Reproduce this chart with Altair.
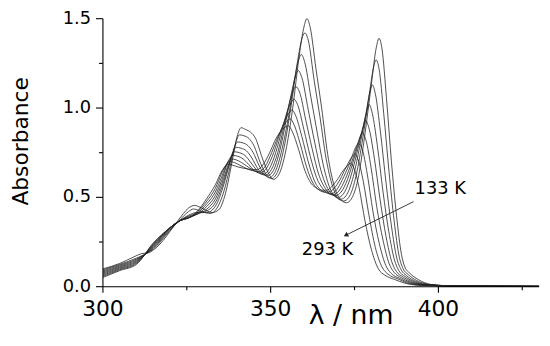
import altair as alt
import pandas as pd

temps = [133, 153, 173, 193, 213, 233, 253, 273, 293]

spec_133 = [(300,0.10),(305,0.13),(309,0.165),(311.5,0.185),(313.5,0.19),(316,0.22),(318,0.26),(320,0.31),(322,0.36),(324,0.41),(325.5,0.44),(327.3,0.455),(329.5,0.44),(332.5,0.415),(334.5,0.43),(336.5,0.52),(338.5,0.70),(340,0.84),(341.2,0.89),(342.5,0.88),(344,0.865),(345.5,0.83),(347.5,0.72),(349.5,0.63),(350.8,0.60),(352.5,0.63),(354.5,0.76),(356.5,0.99),(358.5,1.29),(360,1.46),(360.8,1.50),(361.8,1.45),(363.5,1.22),(365.2,1.00),(367,0.74),(369,0.56),(371,0.485),(372.6,0.47),(374,0.49),(376,0.60),(378,0.84),(380,1.13),(381.5,1.34),(382.3,1.39),(383.2,1.33),(384.5,1.06),(386,0.70),(387.5,0.40),(389,0.18),(390,0.11),(391.5,0.075),(394,0.04),(398,0.012),(405,0.004),(430,0.002)]
spec_153 = [(300,0.094),(305,0.125),(310,0.16),(315,0.21),(320,0.315),(323,0.375),(325.5,0.42),(327,0.435),(329.5,0.42),(332,0.41),(334,0.44),(336,0.53),(338,0.68),(339.5,0.80),(340.7,0.85),(342,0.845),(343.5,0.83),(345,0.79),(347,0.69),(349,0.62),(350.2,0.605),(352,0.64),(354,0.78),(356,1.00),(358,1.26),(359.5,1.40),(360.2,1.42),(361.2,1.38),(363,1.15),(364.7,0.95),(366.5,0.72),(368.5,0.56),(370.3,0.49),(371.8,0.48),(373.3,0.50),(375.2,0.60),(377.2,0.80),(379.2,1.05),(380.7,1.23),(381.4,1.27),(382.3,1.22),(383.7,0.97),(385.3,0.64),(386.8,0.37),(388.3,0.17),(389.5,0.10),(391,0.068),(393.5,0.035),(398,0.011),(405,0.004),(430,0.002)]
spec_173 = [(300,0.088),(305,0.12),(310,0.155),(315,0.215),(320,0.32),(323,0.37),(325.5,0.40),(328,0.415),(331,0.415),(333.5,0.45),(335.5,0.54),(337.5,0.67),(339,0.77),(340.2,0.81),(341.7,0.805),(343.2,0.79),(344.8,0.75),(346.5,0.68),(348.3,0.625),(349.6,0.61),(351.4,0.645),(353.4,0.77),(355.4,0.96),(357.3,1.18),(358.5,1.28),(359.1,1.30),(360.1,1.26),(362,1.06),(363.8,0.87),(365.7,0.68),(367.7,0.55),(369.5,0.50),(371.0,0.49),(372.5,0.51),(374.4,0.60),(376.4,0.77),(378.4,0.97),(379.7,1.10),(380.3,1.13),(381.2,1.08),(382.7,0.87),(384.4,0.58),(386,0.34),(387.6,0.16),(388.9,0.095),(390.5,0.062),(393,0.032),(397.5,0.01),(405,0.004),(430,0.002)]
spec_193 = [(300,0.082),(305,0.115),(310,0.15),(315,0.22),(320,0.325),(323,0.37),(325.5,0.395),(328,0.41),(331,0.425),(333.5,0.47),(335.5,0.56),(337.5,0.68),(339,0.76),(339.7,0.78),(341.2,0.775),(342.8,0.76),(344.4,0.72),(346.2,0.66),(347.8,0.63),(349.0,0.62),(350.8,0.65),(352.7,0.76),(354.6,0.93),(356.5,1.11),(357.6,1.19),(358.2,1.21),(359.3,1.17),(361.2,0.99),(363.1,0.81),(365,0.65),(367,0.55),(368.8,0.51),(370.2,0.50),(371.7,0.52),(373.6,0.60),(375.6,0.74),(377.6,0.90),(378.8,0.99),(379.3,1.02),(380.3,0.97),(381.8,0.79),(383.5,0.53),(385.2,0.31),(386.9,0.15),(388.2,0.09),(390,0.058),(392.5,0.03),(397,0.01),(405,0.004),(430,0.002)]
spec_213 = [(300,0.076),(305,0.11),(310,0.145),(315,0.225),(320,0.33),(323,0.37),(325.5,0.39),(328,0.405),(331,0.435),(333.5,0.49),(335.5,0.58),(337.5,0.69),(339.2,0.755),(340.7,0.75),(342.3,0.735),(343.9,0.70),(345.7,0.655),(347.2,0.63),(348.4,0.625),(350.2,0.655),(352.1,0.75),(354,0.90),(355.9,1.05),(357,1.11),(357.5,1.12),(358.6,1.09),(360.5,0.93),(362.4,0.77),(364.3,0.63),(366.3,0.55),(368.1,0.515),(369.5,0.51),(371,0.53),(372.9,0.60),(374.9,0.72),(376.9,0.85),(377.9,0.91),(378.3,0.93),(379.4,0.88),(380.9,0.72),(382.6,0.49),(384.4,0.28),(386.1,0.14),(387.5,0.085),(389.5,0.054),(392,0.028),(396.5,0.01),(405,0.004),(430,0.002)]
spec_233 = [(300,0.07),(305,0.105),(310,0.14),(315,0.23),(320,0.33),(323,0.37),(325.5,0.385),(328,0.405),(331,0.45),(333.5,0.51),(335.5,0.60),(337.3,0.70),(338.7,0.735),(340.2,0.73),(341.8,0.715),(343.4,0.685),(345.1,0.65),(346.6,0.635),(347.8,0.63),(349.6,0.66),(351.5,0.75),(353.4,0.88),(355.3,1.00),(356.4,1.04),(356.9,1.05),(358,1.02),(359.9,0.88),(361.8,0.73),(363.7,0.61),(365.7,0.545),(367.4,0.52),(368.8,0.515),(370.3,0.535),(372.2,0.60),(374.2,0.70),(376.1,0.81),(376.9,0.85),(377.3,0.86),(378.4,0.82),(379.9,0.67),(381.6,0.45),(383.5,0.26),(385.3,0.13),(386.8,0.08),(389,0.05),(391.5,0.026),(396,0.01),(405,0.004),(430,0.002)]
spec_253 = [(300,0.064),(305,0.10),(310,0.135),(315,0.235),(320,0.33),(323,0.37),(325.5,0.385),(328,0.41),(331,0.465),(333.5,0.53),(335.5,0.62),(337,0.69),(338.2,0.715),(339.7,0.71),(341.3,0.695),(342.9,0.675),(344.5,0.655),(346,0.643),(347.2,0.64),(349,0.67),(350.9,0.75),(352.8,0.86),(354.7,0.95),(355.8,0.98),(356.3,0.99),(357.4,0.96),(359.3,0.84),(361.2,0.70),(363.1,0.59),(365.1,0.54),(366.7,0.525),(368.1,0.52),(369.6,0.54),(371.4,0.60),(373.3,0.68),(375.1,0.77),(375.8,0.795),(376.2,0.80),(377.3,0.77),(378.8,0.63),(380.5,0.42),(382.4,0.24),(384.3,0.12),(385.9,0.075),(388.5,0.046),(391,0.024),(395.5,0.009),(405,0.004),(430,0.002)]
spec_273 = [(300,0.058),(305,0.095),(310,0.13),(315,0.24),(320,0.33),(323,0.37),(325.5,0.385),(328,0.415),(331,0.48),(333.5,0.55),(335.5,0.64),(336.8,0.685),(337.7,0.70),(339.2,0.695),(340.8,0.68),(342.4,0.665),(344,0.652),(345.4,0.647),(346.6,0.645),(348.4,0.675),(350.3,0.75),(352.2,0.84),(354.1,0.91),(355.3,0.935),(355.8,0.94),(356.9,0.91),(358.8,0.80),(360.7,0.67),(362.6,0.58),(364.5,0.54),(366,0.53),(367.4,0.53),(368.9,0.55),(370.7,0.60),(372.5,0.67),(374.2,0.725),(375.0,0.74),(376.1,0.71),(377.6,0.59),(379.3,0.40),(381.2,0.22),(383.2,0.11),(385,0.07),(388,0.043),(390.5,0.022),(395,0.008),(405,0.004),(430,0.002)]
spec_293 = [(300,0.052),(305,0.09),(310,0.125),(315,0.245),(320,0.33),(323,0.37),(325.5,0.385),(328,0.42),(331,0.495),(333.5,0.57),(335.5,0.65),(336.5,0.675),(337.2,0.685),(338.7,0.68),(340.3,0.67),(341.9,0.663),(343.5,0.658),(344.8,0.656),(346.0,0.655),(347.8,0.685),(349.7,0.75),(351.6,0.83),(353.5,0.88),(354.8,0.898),(355.3,0.90),(356.4,0.87),(358.3,0.77),(360.2,0.65),(362,0.58),(363.8,0.55),(365.3,0.54),(366.7,0.54),(368.2,0.56),(369.9,0.60),(371.6,0.65),(373.1,0.68),(373.8,0.69),(374.9,0.66),(376.4,0.55),(378.1,0.37),(380,0.21),(382.1,0.10),(384,0.065),(387,0.04),(390,0.02),(394.5,0.008),(405,0.004),(430,0.002)]

spectra = [spec_133, spec_153, spec_173, spec_193, spec_213, spec_233, spec_253, spec_273, spec_293]

x_domain = [300, 430]
y_domain = [0, 1.5]
x_major = [300, 350, 400]
x_major_text = ["300", "350", "400"]
x_minor = [325, 375, 425]
y_major = [0, 0.5, 1.0, 1.5]
y_major_text = ["0.0", "0.5", "1.0", "1.5"]
y_minor = [0.25, 0.75, 1.25]

x_title = "λ / nm"
y_title = "Absorbance"

label_text = ["133 K", "293 K"]
label_wl = [392.9, 359.3]
label_abs = [0.52, 0.175]

arrow_wl = [392.6, 372.6]
arrow_abs = [0.476, 0.29]

W, H = 441, 271
PX_X = (x_domain[1] - x_domain[0]) / W   # nm per pixel
PX_Y = (y_domain[1] - y_domain[0]) / H   # absorbance per pixel

rows = []
for t, s in zip(temps, spectra):
    for k, (w, a) in enumerate(s):
        rows.append({"T": t, "i": k, "wl": w, "A": a})
df = pd.DataFrame(rows)

# axis frame and tick segments, built from the tick values
seg = []
seg += [{"id": "xdom", "k": 0, "x": x_domain[0], "y": y_domain[0]},
        {"id": "xdom", "k": 1, "x": x_domain[1], "y": y_domain[0]}]
seg += [{"id": "ydom", "k": 0, "x": x_domain[0], "y": y_domain[0]},
        {"id": "ydom", "k": 1, "x": x_domain[0], "y": y_domain[1]}]
for v in x_major + x_minor:
    ln = 6 if v in x_major else 3.5
    seg += [{"id": f"xt{v}", "k": 0, "x": v, "y": y_domain[0]},
            {"id": f"xt{v}", "k": 1, "x": v, "y": y_domain[0] - ln * PX_Y}]
for v in y_major + y_minor:
    ln = 7 if v in y_major else 4
    seg += [{"id": f"yt{v}", "k": 0, "x": x_domain[0], "y": v},
            {"id": f"yt{v}", "k": 1, "x": x_domain[0] - ln * PX_X, "y": v}]
seg_df = pd.DataFrame(seg)

FONT = "DejaVu Sans"
INK = "#000000"

xscale = alt.Scale(domain=x_domain, nice=False, zero=False)
yscale = alt.Scale(domain=y_domain, nice=False, zero=False)


def X(field):
    return alt.X(field, scale=xscale, axis=None)


def Y(field):
    return alt.Y(field, scale=yscale, axis=None)


lines = alt.Chart(df).mark_line(interpolate="monotone", color="#222222", strokeWidth=0.8).encode(
    x=X("wl:Q"), y=Y("A:Q"), detail="T:N", order="i:Q",
)

frame = alt.Chart(seg_df).mark_line(color=INK, strokeWidth=1.1, interpolate="linear").encode(
    x=X("x:Q"), y=Y("y:Q"), detail="id:N", order="k:Q",
)

# tick labels
xl_df = pd.DataFrame({"v": x_major, "t": x_major_text})
xlabels = alt.Chart(xl_df).mark_text(font=FONT, fontSize=22, align="center", baseline="alphabetic", color="black").encode(
    x=X("v:Q"), y=alt.value(H + 30), text="t:N"
)
yl_df = pd.DataFrame({"v": y_major, "t": y_major_text})
ylabels = alt.Chart(yl_df).mark_text(font=FONT, fontSize=18, align="right", baseline="middle", color="black").encode(
    y=Y("v:Q"), x=alt.value(-12), text="t:N"
)

# axis titles
xt_df = pd.DataFrame({"t": [x_title]})
xtitle = alt.Chart(xt_df).mark_text(font=FONT, fontSize=27, align="center", baseline="alphabetic", color="black").encode(
    x=alt.value(251), y=alt.value(H + 38), text="t:N"
)
yt_df = pd.DataFrame({"t": [y_title]})
ytitle = alt.Chart(yt_df).mark_text(font=FONT, fontSize=22, align="center", baseline="alphabetic", angle=270, color="black").encode(
    x=alt.value(-76), y=alt.value(124), text="t:N"
)

lab_df = pd.DataFrame({"text": label_text, "wl": label_wl, "A": label_abs})
labels = alt.Chart(lab_df).mark_text(font=FONT, fontSize=18, align="left", baseline="alphabetic", color="black").encode(
    x=X("wl:Q"), y=Y("A:Q"), text="text:N"
)

arr_df = pd.DataFrame({"wl": [arrow_wl[0]], "A": [arrow_abs[0]], "wl2": [arrow_wl[1]], "A2": [arrow_abs[1]]})
arrow = alt.Chart(arr_df).mark_rule(color="#222222", strokeWidth=0.9).encode(
    x=X("wl:Q"), y=Y("A:Q"), x2="wl2:Q", y2="A2:Q"
)
head_df = pd.DataFrame({"wl": [arrow_wl[1]], "A": [arrow_abs[1]]})
head = alt.Chart(head_df).mark_point(shape="triangle", filled=True, size=28, angle=243.4, color="#222222", opacity=1).encode(
    x=X("wl:Q"), y=Y("A:Q")
)

chart = alt.layer(
    lines, xlabels, ylabels, xtitle, ytitle, arrow, head, labels, frame,
).properties(
    width=W, height=H,
    autosize=alt.AutoSizeParams(type="none"),
    padding={"left": 96, "top": 9, "right": 3, "bottom": 45},
    background="white",
).configure_view(stroke=None)

chart.save("out.html", embed_options={"renderer": "svg", "actions": False})
